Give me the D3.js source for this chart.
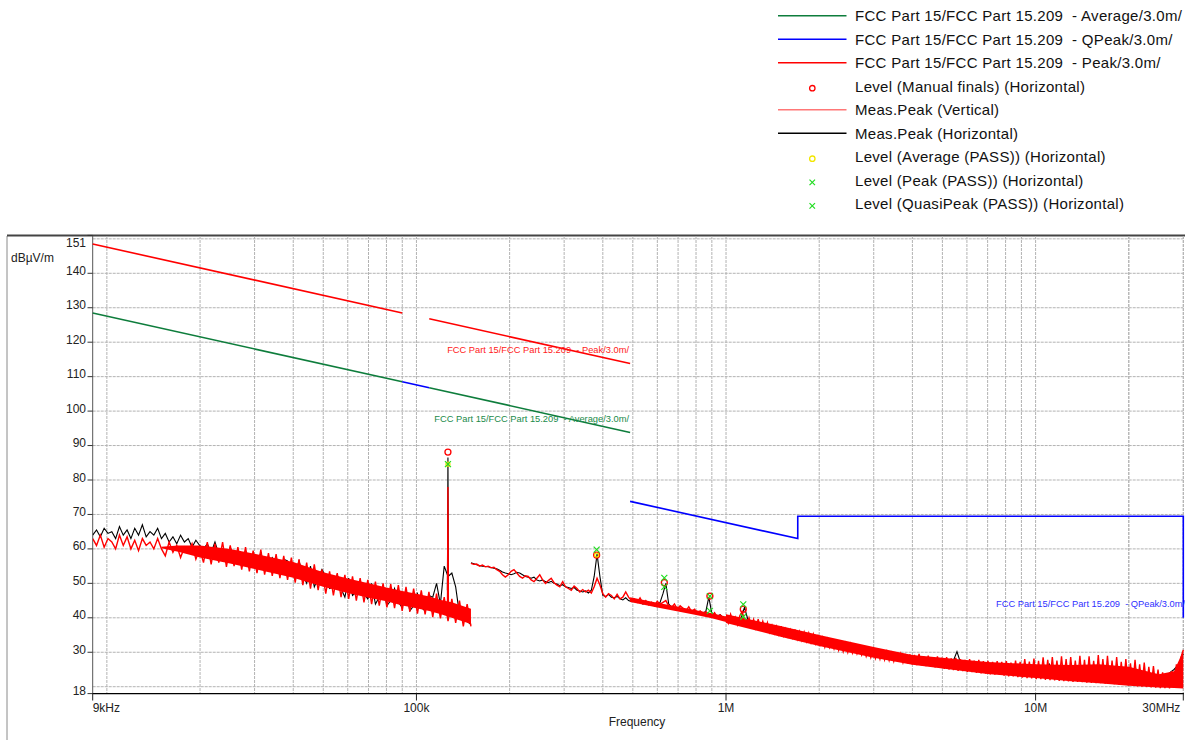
<!DOCTYPE html>
<html>
<head>
<meta charset="utf-8">
<script src="https://cdn.jsdelivr.net/npm/d3@7"></script>
<style>
  body { margin: 0; background: #fff; }
  text { font-family: "Liberation Sans", Arial, sans-serif; }
</style>
</head>
<body>
<script>
// ---------------- data (frequencies in kHz, levels in dBuV/m) ----------------
var yTicks = [30, 40, 50, 60, 70, 80, 90, 100, 110, 120, 130, 140]
var yGrid = [20, 30, 40, 50, 60, 70, 80, 90, 100, 110, 120, 130, 140, 150]
var xTicks = [9, 100, 1000, 10000, 30000]
var xTickLabels = ["9kHz", "100k", "1M", "10M", "30MHz"]

// limit lines
var peakLimitA = [[9, 148.5], [90, 128.5]]
var peakLimitB = [[110, 126.8], [490, 113.8]]
var avgLimitA = [[9, 128.5], [90, 108.5]]
var avgLimitB = [[110, 106.8], [490, 93.8]]
var qpLimitA = [[90, 108.5], [110, 106.8]]
var qpLimitB = [[490, 73.8], [1705, 63.0], [1705, 69.5], [30000, 69.5], [30000, 40]]

// sweep settings: [start kHz, stop kHz]
var sweepLow = [9, 150]
var sweepMid = [150, 1000]
var sweepHigh = [1000, 30000]

// Meas.Peak (Vertical) - red trace
var redLow = [63,61,64,60.5,63,62,60,64,
  61,63.5,60,62.5,59.5,63,61,62,60,63,
  60,58,62,59,61,57.5,60.5,59,61.5,57,60,
  56,62,55.5,61.5,56,62,54.8,61,55,60.5,54,60.5,53.5,
  59.5,53,59.8,52.5,58.8,52.2,58.5,51.5,58,51,57.5,
  50.2,57,49.5,56,48.5,55.5,48,54,47,53.5,
  46.5,53,46,52.5,45.5,52,45,51.5,44.5,51,44,50.5,43.5,
  50,43,49.8,42.8,49.5,42,49,41.8,48.5,41.2,48,41,47.5,
  40.2,47,39.8,46,39,45.5,38.5,45,37.5,44,37.5]
var redMid = [55.8,55.5,55.6,55,55.3,54.8,55,54.5,54.7,54,
  53.5,52.5,51.8,52.5,53.5,54,53,52,51.5,52.2,
  52,51,50.5,51.5,52.5,51,50,50.8,51.5,50.2,
  49.5,49,50.5,49,48.5,48,49.2,48.5,47.5,48.2,
  47.5,48,47.2,49,51.5,49.5,47,46,47,46.5,
  45.5,46.8,45.5,46,47.5,46,45,45.5,44.5,45.8,
  44.2,45,43.8,44.5,43.5,44.8,44,44.5,45,43.5,
  43,44,42.5,43.5,42.8,42,43.2,41.8,42.5,41.5,
  42,41,41.8,41,40.5,41.5,40.2,40.8,39.8,39.4]
var redHigh = [40.5,38.5,41,38.8,40.2,38,40.6,41.8,39.5,37.8,
  40,37.5,39.5,37,39.6,36.8,39,36.5,38.6,35.8,
  37.8,35.5,37.5,35.2,37.6,34.8,36.8,34.5,36.5,34.2,
  36.6,33.8,36,33.5,35.8,33.2,35.5,32.8,35.2,32.5,
  34.6,31.8,34.2,31.5,33.8,31.4,33.2,31,33.4,30.6,
  32.8,30.2,32.6,30,32.4,29.8,32,29.6,31.5,29.2,
  31.2,28.8,30.7,28.5,30.9,28.2,30.4,28,30.5,27.8,
  30.2,27.6,29.8,27.4,30,27.2,29.6,27,29.5,26.8,
  29.4,26.5,29.2,26.3,29.5,26.2,28.8,26,29,25.8,
  28.6,25.6,28.8,25.5,28.4,25.2,28.6,25,28.2,24.8,
  28.4,24.6,28,24.5,27.8,24.3,28,24.2,27.6,24,
  27.8,23.9,27.4,23.8,27.5,23.6,27.2,23.5,27.4,23.4,
  27.2,23.2,27.4,23,27,23,27.6,22.8,27.2,22.6,
  28,22.5,27.3,22.4,28.2,22.2,27.5,22.2,28.5,22,
  27.8,21.9,28.6,21.8,27.6,21.7,28.8,21.6,28,21.5,
  28.6,21.4,27.6,21.4,29,21.3,27.8,21.2,28.8,21.1,
  27.5,21,29.2,21,28,20.9,29,20.8,27.6,20.7,
  28.6,20.6,27.2,20.5,28,20.4,26.8,20.3,27.8,20.1,
  26.5,20,27,19.9,25.8,19.8,26,19.7,25,19.6,
  24.2,19.6,23.5,19.5,24.5,19.8,26.5,20.5,28.5,30.7]

// red trace min/max core band where the sweep is too dense to resolve single points
var bandLowFreq = [15, 17, 20, 25, 30, 40, 50, 60, 70, 80, 90, 100, 110, 120, 130, 150]
var bandLowMin = [60.2, 59.2, 57.5, 55.8, 54.2, 51.6, 49, 47.2, 45.8, 44.8, 43.6, 42.8, 42, 41, 40, 38.2]
var bandLowMax = [60.6, 61, 61, 60, 58.6, 56.2, 53.2, 51.4, 50, 48.8, 47.8, 47, 46.2, 45.2, 44.5, 42.6]
var bandMidFreq = [490, 600, 700, 800, 900, 1000]
var bandMidMin = [44.6, 43.0, 41.8, 40.8, 39.9, 38.8]
var bandMidMax = [46.0, 44.4, 43.2, 42.2, 41.3, 40.4]
var bandHighFreq = [1000, 1500, 2000, 3000, 4000, 5000, 7000, 10000, 13000, 16000, 20000, 25000, 28000, 30000]
var bandHighMin = [38.5, 34.5, 31.8, 28.4, 26.4, 25.3, 23.7, 22.5, 21.6, 21, 20.3, 19.8, 19.6, 19.5]
var bandHighMax = [41, 37.6, 35, 31.5, 29.2, 28.4, 27.2, 26.5, 26.3, 26.5, 25.8, 23.6, 24.5, 30.5]

// Meas.Peak (Horizontal) - black trace
var blackLow = [64,65.5,63.5,66,64.5,65,63,66.5,
  64,65.5,63,66,64,67,63.5,65,64,66,
  63,64.5,62,63.5,61.5,64,62,63,60.5,62.5,61,
  60,61.5,59,62,58.5,60,58,60.5,57.5,59,57,58.5,56.5,
  58,55,59,54,56,57.5,55,53,57,56.5,54,
  53,56.5,52.5,50,55,49,51.5,54,52,48.5,
  49,52.5,48.5,46,51.5,46.5,47.5,50.5,47,45.5,50,44,46,
  49.5,43.5,45,48.5,44.5,43,48,42,43.5,47,43,42,46.5,
  46,50,44,55,52,53,49,41,40,39,38]
var blackMid = [56,55.7,55.4,55.2,55,54.9,54.8,54.6,54.4,54.2,
  53.8,53.3,53,52.8,52.5,52.8,53.2,53,52.5,52,
  51.8,51.5,51.8,51,50.7,51,50.5,50.2,50.6,50,
  49.8,49.3,49.6,49,48.8,48.5,48.8,48,47.8,47.5,
  47.8,47.2,48,52,58.5,52,46.5,46.2,46.8,46,
  45.8,46.2,45.5,45.2,45.8,45,44.7,45.2,44.5,44.8,
  44,44.3,43.8,44,43.5,43.2,44.5,47,50,44,
  43.2,42.8,43,42.5,42.6,42,42.4,41.8,42,41.5,
  41.8,41.2,42,46,41.5,40.8,40.5,40.9,40,39.6]
var blackHigh = [39.5,39,38.5,39,43,38.2,37.8,37.5,37,36.6,
  36.5,36,35.6,35.8,35,34.8,34.6,34,33.8,33.5,
  33,33.2,32.5,32,31.8,31.5,31,31.2,30.6,30.2,
  30,29.8,29.5,29.6,29,28.8,28.5,28.6,28,27.8,
  27.5,27.6,27.2,27,27.3,26.8,26.5,26.6,26.2,26.8,
  30.2,26,25.8,25.5,25.6,25.2,25,24.8,25,24.5,
  24.4,24.2,24.5,24,23.8,23.6,23.8,23.4,23.2,23,
  26.5,22.8,22.6,22.8,22.4,22.2,22.5,22,22.3,21.8,
  22,21.6,21.8,21.4,21.2,21.5,21,21.2,20.8,20.6,
  21,20.4,20.2,20.5,21,22.5,24,25,26.5,29.5]

// narrow carrier at ~126 kHz
var redSpike = [[126.0, 44], [126.4, 78], [126.8, 44]]
var blackSpike = [[125.9, 48], [126.4, 86.5], [126.9, 48]]

// final measurement points
var finalsPts = [[126.4, 88.1], [382, 58.2], [632, 50.2], [887, 46.3], [1137, 42.5]]
var avgPassPts = [[126.4, 84.6], [382, 58.2]]
var peakPassPts = [[126.4, 84.6], [382, 59.8], [632, 51.6], [887, 46.3], [1137, 43.9]]
var qpPassPts = [[632, 49.0], [887, 42.0], [1137, 40.3]]

var legendItems = [
  {label: "FCC Part 15/FCC Part 15.209  - Average/3.0m/", type: "line", color: "#0e7d3c"},
  {label: "FCC Part 15/FCC Part 15.209  - QPeak/3.0m/", type: "line", color: "#0000ff"},
  {label: "FCC Part 15/FCC Part 15.209  - Peak/3.0m/", type: "line", color: "#ff0000"},
  {label: "Level (Manual finals) (Horizontal)", type: "circle", color: "#ff0000"},
  {label: "Meas.Peak (Vertical)", type: "line", color: "#ff7777"},
  {label: "Meas.Peak (Horizontal)", type: "line", color: "#000000"},
  {label: "Level (Average (PASS)) (Horizontal)", type: "circle", color: "#f2e600"},
  {label: "Level (Peak (PASS)) (Horizontal)", type: "cross", color: "#22dd22"},
  {label: "Level (QuasiPeak (PASS)) (Horizontal)", type: "cross", color: "#22dd22"}
]

// ---------------- drawing ----------------
var width = 1185
var height = 740

var svg = d3.select("body")
  .append("svg")
    .attr("width", width)
    .attr("height", height)

var x = d3.scaleLog().domain([9, 30000]).range([92.7, 1183.3])
var y = d3.scaleLinear().domain([18, 151]).range([693.6, 235.4])

// sweep grid: log spaced points between start and stop
function sweep(range, vals) {
  var n = vals.length
  return vals.map(function(v, i) {
    return [range[0] * Math.pow(range[1] / range[0], i / (n - 1)), v]
  })
}
function band(freqs, mins, maxs) {
  return freqs.map(function(f, i){ return [f, mins[i], maxs[i]] })
}

// outer frame
svg.append("line").attr("x1", 7).attr("x2", 7).attr("y1", 236).attr("y2", height)
  .attr("stroke", "#8a8a8a").attr("stroke-width", 1)
svg.append("line").attr("x1", 7).attr("x2", width).attr("y1", 235.5).attr("y2", 235.5)
  .attr("stroke", "#444").attr("stroke-width", 2)

// grid
var gridX = []
;[10, 100, 1000, 10000].forEach(function(dec) {
  for (var k = 1; k <= 9; k++) {
    var f = dec * k
    if (f > 9 && f <= 30000) gridX.push(f)
  }
})
gridX.push(20000, 30000)

svg.append("g").selectAll("line").data(gridX).enter().append("line")
  .attr("x1", function(d){ return x(d) }).attr("x2", function(d){ return x(d) })
  .attr("y1", 236).attr("y2", 693.6)
  .attr("stroke", "#b3b3b3").attr("stroke-width", 1).attr("stroke-dasharray", "3,1")

svg.append("g").selectAll("line").data(yGrid).enter().append("line")
  .attr("x1", 92.7).attr("x2", 1183.3)
  .attr("y1", function(d){ return y(d) }).attr("y2", function(d){ return y(d) })
  .attr("stroke", "#b3b3b3").attr("stroke-width", 1).attr("stroke-dasharray", "3,1")

// axes
svg.append("line").attr("x1", 92.7).attr("x2", 92.7).attr("y1", 236).attr("y2", 694)
  .attr("stroke", "#555").attr("stroke-width", 1)
svg.append("line").attr("x1", 92.2).attr("x2", 1184).attr("y1", 693.6).attr("y2", 693.6)
  .attr("stroke", "#000").attr("stroke-width", 1.2)

// y ticks & labels
var yLab = svg.append("g")
yLab.selectAll("line").data(yTicks.concat([151, 18])).enter().append("line")
  .attr("x1", 87.5).attr("x2", 92.7)
  .attr("y1", function(d){ return y(d) }).attr("y2", function(d){ return y(d) })
  .attr("stroke", "#333")
yLab.selectAll("text").data(yTicks.concat([151, 18])).enter().append("text")
  .attr("x", 86)
  .attr("y", function(d){ return d == 151 ? y(d) + 12 : y(d) + 1.5 })
  .attr("text-anchor", "end")
  .style("font-size", "12px").attr("fill", "#222")
  .text(function(d){ return d })
svg.append("text").attr("x", 11).attr("y", 261.5)
  .style("font-size", "12px").attr("fill", "#222").text("dBµV/m")

// x ticks & labels
var xLab = svg.append("g")
xLab.selectAll("line").data(xTicks).enter().append("line")
  .attr("x1", function(d){ return x(d) }).attr("x2", function(d){ return x(d) })
  .attr("y1", 693.6).attr("y2", 700.5)
  .attr("stroke", "#222")
xLab.selectAll("text").data(xTicks).enter().append("text")
  .attr("x", function(d, i){ return i == 0 ? x(d) : (i == xTicks.length - 1 ? x(d) - 3 : x(d)) })
  .attr("y", 712)
  .attr("text-anchor", function(d, i){ return i == 0 ? "start" : (i == xTicks.length - 1 ? "end" : "middle") })
  .style("font-size", "12px").attr("fill", "#222")
  .text(function(d, i){ return xTickLabels[i] })
svg.append("text").attr("x", 637).attr("y", 725.5).attr("text-anchor", "middle")
  .style("font-size", "12px").attr("fill", "#222").text("Frequency")

// clip to plot
svg.append("clipPath").attr("id", "plotclip").append("rect")
  .attr("x", 92.7).attr("y", 236).attr("width", 1092).attr("height", 458)

var line = d3.line().x(function(d){ return x(d[0]) }).y(function(d){ return y(d[1]) })
var area = d3.area().x(function(d){ return x(d[0]) })
  .y0(function(d){ return y(d[1]) }).y1(function(d){ return y(d[2]) })
var plot = svg.append("g").attr("clip-path", "url(#plotclip)")

// traces: black first, red on top
;[sweep(sweepLow, blackLow), sweep(sweepMid, blackMid), sweep(sweepHigh, blackHigh), blackSpike].forEach(function(s) {
  plot.append("path").datum(s).attr("d", line)
    .attr("fill", "none").attr("stroke", "#000").attr("stroke-width", 1.1)
})
;[band(bandLowFreq, bandLowMin, bandLowMax), band(bandMidFreq, bandMidMin, bandMidMax),
  band(bandHighFreq, bandHighMin, bandHighMax)].forEach(function(b) {
  plot.append("path").datum(b).attr("d", area).attr("fill", "#ff0000")
})
;[sweep(sweepLow, redLow), sweep(sweepMid, redMid), sweep(sweepHigh, redHigh), redSpike].forEach(function(s) {
  plot.append("path").datum(s).attr("d", line)
    .attr("fill", "none").attr("stroke", "#ff0000").attr("stroke-width", 1.4)
})

// limit lines
;[[avgLimitA, "#0e7d3c"], [avgLimitB, "#0e7d3c"], [peakLimitA, "#ff0000"], [peakLimitB, "#ff0000"],
  [qpLimitA, "#0000ff"], [qpLimitB, "#0000ff"]].forEach(function(l) {
  svg.append("path").datum(l[0]).attr("d", line)
    .attr("fill", "none").attr("stroke", l[1]).attr("stroke-width", 1.6)
})

// limit labels
svg.append("text").attr("x", 629).attr("y", 352.5).attr("text-anchor", "end")
  .style("font-size", "9.3px").style("white-space", "pre").attr("fill", "#ff2020")
  .text("FCC Part 15/FCC Part 15.209  - Peak/3.0m/")
svg.append("text").attr("x", 629).attr("y", 421.5).attr("text-anchor", "end")
  .style("font-size", "9.3px").style("white-space", "pre").attr("fill", "#1a8a4a")
  .text("FCC Part 15/FCC Part 15.209  - Average/3.0m/")
svg.append("text").attr("x", 996).attr("y", 606.5)
  .style("font-size", "9.3px").style("white-space", "pre").attr("fill", "#3030ff")
  .text("FCC Part 15/FCC Part 15.209  - QPeak/3.0m/")

// markers
function crosses(g, pts, color) {
  g.selectAll(null).data(pts).enter().append("path")
    .attr("d", function(d){
      var cx = x(d[0]), cy = y(d[1])
      return "M" + (cx - 3) + "," + (cy - 3) + "L" + (cx + 3) + "," + (cy + 3) +
             "M" + (cx - 3) + "," + (cy + 3) + "L" + (cx + 3) + "," + (cy - 3)
    })
    .attr("stroke", color).attr("stroke-width", 1.2).attr("fill", "none")
}
var mk = svg.append("g")
mk.selectAll(null).data(finalsPts).enter().append("circle")
  .attr("cx", function(d){ return x(d[0]) }).attr("cy", function(d){ return y(d[1]) })
  .attr("r", 3).attr("fill", "none").attr("stroke", "#ff0000").attr("stroke-width", 1.3)
mk.selectAll(null).data(avgPassPts).enter().append("circle")
  .attr("cx", function(d){ return x(d[0]) }).attr("cy", function(d){ return y(d[1]) })
  .attr("r", 2).attr("fill", "none").attr("stroke", "#f2e600").attr("stroke-width", 1.3)
crosses(mk, peakPassPts, "#22dd22")
crosses(mk, qpPassPts, "#22dd22")

// legend
var leg = svg.append("g").selectAll("g").data(legendItems).enter().append("g")
  .attr("transform", function(d, i){ return "translate(0," + (15.7 + i * 23.5) + ")" })
leg.filter(function(d){ return d.type == "line" }).append("line")
  .attr("x1", 778).attr("x2", 846.5).attr("y1", 0).attr("y2", 0)
  .attr("stroke", function(d){ return d.color }).attr("stroke-width", 1.6)
leg.filter(function(d){ return d.type == "circle" }).append("circle")
  .attr("cx", 812.3).attr("cy", 2).attr("r", 2.7)
  .attr("fill", "none").attr("stroke", function(d){ return d.color }).attr("stroke-width", 1.3)
leg.filter(function(d){ return d.type == "cross" }).append("path")
  .attr("d", "M809.5,-0.5L815,5M809.5,5L815,-0.5")
  .attr("stroke", function(d){ return d.color }).attr("stroke-width", 1.2)
leg.append("text").attr("x", 855).attr("y", 5.5)
  .style("font-size", "15px").style("letter-spacing", "0.3px").style("white-space", "pre").attr("fill", "#111")
  .text(function(d){ return d.label })
</script>
</body>
</html>
